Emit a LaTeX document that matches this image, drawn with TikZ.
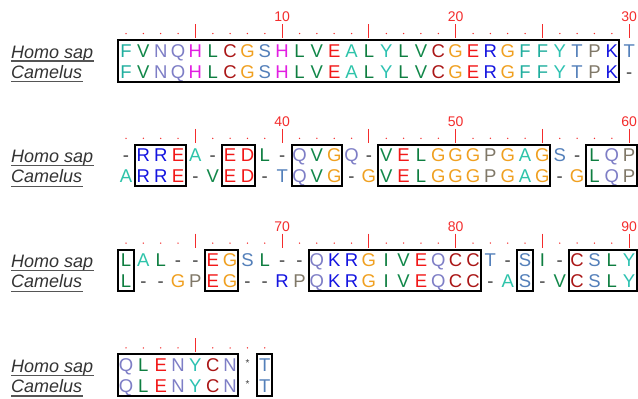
\documentclass[tikz,border=0pt]{standalone}
\usepackage{fontspec}
\setmainfont{Liberation Sans}
\definecolor{aaF}{HTML}{1FAE9E}
\definecolor{aaA}{HTML}{2EC4AA}
\definecolor{aaY}{HTML}{2EC2B2}
\definecolor{aaV}{HTML}{12884A}
\definecolor{aaL}{HTML}{0E7E40}
\definecolor{aaI}{HTML}{0E7E40}
\definecolor{aaN}{HTML}{7E7EC6}
\definecolor{aaQ}{HTML}{7E7EC6}
\definecolor{aaH}{HTML}{E21EE2}
\definecolor{aaC}{HTML}{AA1616}
\definecolor{aaG}{HTML}{F0A020}
\definecolor{aaS}{HTML}{5480BA}
\definecolor{aaT}{HTML}{5480BA}
\definecolor{aaE}{HTML}{F21818}
\definecolor{aaD}{HTML}{F21818}
\definecolor{aaR}{HTML}{1414E0}
\definecolor{aaK}{HTML}{1414E0}
\definecolor{aaP}{HTML}{807868}
\definecolor{aax}{HTML}{404040}
\definecolor{aaz}{HTML}{404040}
\definecolor{rulered}{HTML}{F42C2C}
\definecolor{labgray}{HTML}{333333}
\definecolor{ulgray}{HTML}{555555}
\def\gapkey{x}
\def\starkey{z}
\newcommand\seqline[3]{%
  \foreach \ch [count=\c] in {#3} {%
    \node[res,text=aa\ch] (#1\c) at ({126+(\c-1)*17.35},#2)
      {\ifx\ch\gapkey -\else\ifx\ch\starkey\raisebox{5pt}{\fontsize{10}{10}\selectfont *}\else\ch\fi\fi};
  }}
\newcommand\rulerrow[3]{%
  \foreach \c in {1,...,#2} {%
    \pgfmathtruncatemacro\pos{#3+\c}%
    \pgfmathtruncatemacro\mf{mod(\pos,5)}%
    \pgfmathtruncatemacro\mt{mod(\pos,10)}%
    \pgfmathsetmacro\xx{126+(\c-1)*17.35}%
    \ifnum\mf=0
      \draw[tickline] (\xx,#1+24) -- (\xx,#1+38);
    \else
      \fill[rulered] (\xx,#1+33.5) circle (0.75);
    \fi
    \ifnum\mt=0
      \node[numlab] at (\xx,#1+21.5) {\pos};
    \fi
  }}
\newcommand\abox[3]{%
  \draw[alnbox] ({126+(#2-1)*17.35-8},#1+40) rectangle ({126+(#3-1)*17.35+7.5},#1+81.5);}
\newcommand\labels[2]{%
  \node[lab] (#1h) at (11,#2+58) {Homo sap};
  \node[lab] (#1c) at (11,#2+78) {Camelus};
  \draw[uline] ([yshift=-3pt]#1h.base west) -- ([yshift=-3pt,xshift=1pt]#1h.base east);
  \draw[uline] ([yshift=-3.5pt]#1c.base west) -- ([yshift=-3.5pt,xshift=1pt]#1c.base east);}
\begin{document}
\begin{tikzpicture}[x=1pt,y=-1pt,
  res/.style={anchor=base,inner sep=0pt,font=\fontsize{18.5}{18.5}\selectfont},
  numlab/.style={anchor=base,inner sep=0pt,text=rulered,font=\fontsize{14}{14}\selectfont},
  tickline/.style={draw=rulered,line width=1pt},
  alnbox/.style={draw=black,line width=2pt},
  lab/.style={anchor=base west,inner sep=0pt,text=labgray,font=\fontsize{18}{18}\selectfont\itshape},
  uline/.style={draw=ulgray,line width=1.2pt}]
\useasboundingbox (0,0) rectangle (638,399);
\fill[white] (0,0) rectangle (638,399);
% row 1
\labels{r1}{0}
\rulerrow{0}{30}{0}
\seqline{ta}{57}{F,V,N,Q,H,L,C,G,S,H,L,V,E,A,L,Y,L,V,C,G,E,R,G,F,F,Y,T,P,K,T}
\seqline{ba}{78}{F,V,N,Q,H,L,C,G,S,H,L,V,E,A,L,Y,L,V,C,G,E,R,G,F,F,Y,T,P,K,x}
\abox{0}{1}{29}
% row 2
\labels{r2}{104.8}
\rulerrow{104.8}{30}{30}
\seqline{tb}{161.8}{x,R,R,E,A,x,E,D,L,x,Q,V,G,Q,x,V,E,L,G,G,G,P,G,A,G,S,x,L,Q,P}
\seqline{bb}{182.8}{A,R,R,E,x,V,E,D,x,T,Q,V,G,x,G,V,E,L,G,G,G,P,G,A,G,x,G,L,Q,P}
\abox{104.8}{2}{4}
\abox{104.8}{7}{8}
\abox{104.8}{11}{13}
\abox{104.8}{16}{25}
\abox{104.8}{28}{30}
% row 3
\labels{r3}{209.6}
\rulerrow{209.6}{30}{60}
\seqline{tc}{266.6}{L,A,L,x,x,E,G,S,L,x,x,Q,K,R,G,I,V,E,Q,C,C,T,x,S,I,x,C,S,L,Y}
\seqline{bc}{287.6}{L,x,x,G,P,E,G,x,x,R,P,Q,K,R,G,I,V,E,Q,C,C,x,A,S,x,V,C,S,L,Y}
\abox{209.6}{1}{1}
\abox{209.6}{6}{7}
\abox{209.6}{12}{21}
\abox{209.6}{24}{24}
\abox{209.6}{27}{30}
% row 4
\labels{r4}{314.4}
\rulerrow{314.4}{9}{90}
\seqline{td}{371.4}{Q,L,E,N,Y,C,N,z,T}
\seqline{bd}{392.4}{Q,L,E,N,Y,C,N,z,T}
\abox{314.4}{1}{7}
\abox{314.4}{9}{9}
\end{tikzpicture}
\end{document}
